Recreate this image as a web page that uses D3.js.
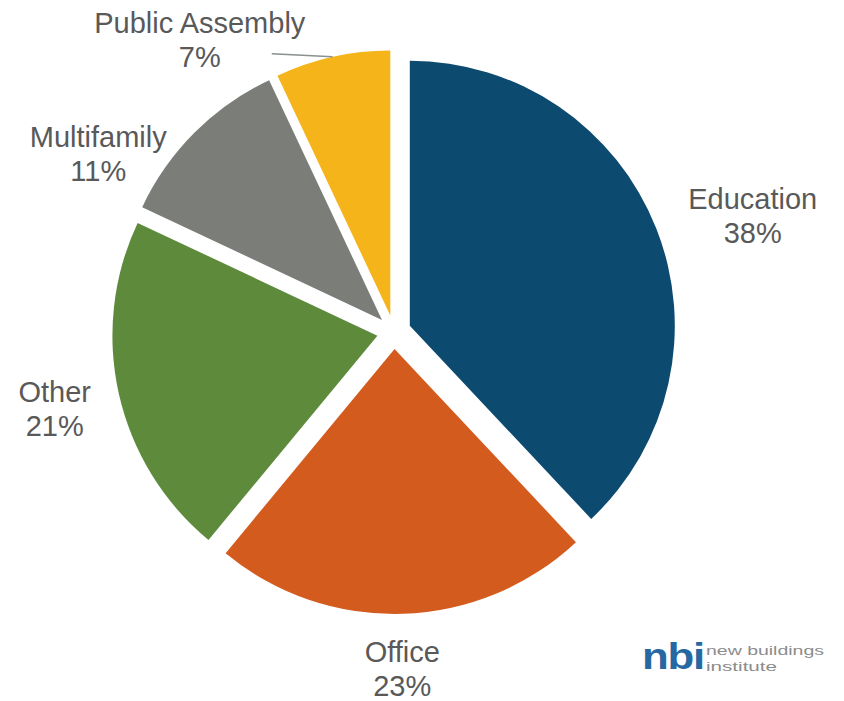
<!DOCTYPE html>
<html>
<head>
<meta charset="utf-8">
<script src="https://cdn.jsdelivr.net/npm/d3@7"></script>
<style>
  html, body { margin: 0; padding: 0; background: #fff; }
  svg { display: block; }
  text { font-family: "Liberation Sans", Arial, sans-serif; }
</style>
</head>
<body>
<svg id="chart" width="844" height="701"></svg>
<script>
// Building types and their shares (%)
const categories = ["Education", "Office", "Other", "Multifamily", "Public Assembly"];
const shares = [38, 23, 21, 11, 7];
const colors = ["#0d4a70", "#d45b1e", "#5e8a3c", "#7b7d79", "#f6b41b"];

// Label placement: angle shift (degrees) and distance from the pie centre
const labelLayout = {
  "Education":       { shift: 3.7,  dist: 377 },
  "Office":          { shift: 0.4,  dist: 337 },
  "Other":           { shift: -0.2, dist: 348 },
  "Multifamily":     { shift: -14,  dist: 345 },
  "Public Assembly": { shift: -21,  dist: 351, leader: [72, 14] }
};

const W = 844, H = 701;
const cx = 394, cy = 332;   // pie centre
const R = 265;               // pie radius
const explode = 17;          // distance each slice is pulled out

const svg = d3.select("#chart");
const data = categories.map((c, i) => ({ name: c, value: shares[i], color: colors[i] }));

const pie = d3.pie().sort(null).value(d => d.value).startAngle(0).endAngle(2 * Math.PI);
const arc = d3.arc().innerRadius(0).outerRadius(R);
const arcs = pie(data);

const g = svg.append("g").attr("transform", `translate(${cx},${cy})`);

const mid = d => (d.startAngle + d.endAngle) / 2;
const polar = (a, r) => [Math.sin(a) * r, -Math.cos(a) * r];

g.selectAll("path.slice")
  .data(arcs)
  .join("path")
  .attr("class", "slice")
  .attr("d", arc)
  .attr("fill", d => d.data.color)
  .attr("transform", d => {
    const [dx, dy] = polar(mid(d), explode);
    return `translate(${dx},${dy})`;
  });

// Category labels with percentages
const fmt = d3.format(".0f");
arcs.forEach(d => {
  const lay = labelLayout[d.data.name];
  const a = mid(d) + lay.shift * Math.PI / 180;
  const [lx, ly] = polar(a, lay.dist);
  const t = g.append("text")
    .attr("text-anchor", "middle")
    .attr("fill", "#595959")
    .style("font-size", "29px");
  t.append("tspan").attr("x", lx).attr("y", ly - 7).text(d.data.name);
  t.append("tspan").attr("x", lx).attr("y", ly + 27).text(fmt(d.data.value) + "%");

  if (lay.leader) {
    const [ex, ey] = polar(mid(d), R);
    const [ox, oy] = polar(mid(d), explode);
    g.append("line")
      .attr("x1", lx + lay.leader[0]).attr("y1", ly + lay.leader[1])
      .attr("x2", ex + ox).attr("y2", ey + oy)
      .attr("stroke", "#8a8f90")
      .attr("stroke-width", 1.5);
  }
});

// Logo
const logo = svg.append("g").attr("transform", "translate(642,669)");
logo.append("text")
  .attr("x", 0).attr("y", 0)
  .attr("fill", "#2668a2")
  .attr("textLength", 62)
  .attr("lengthAdjust", "spacingAndGlyphs")
  .style("font-size", "36px")
  .style("font-weight", "bold")
  .style("letter-spacing", "-1px")
  .text("nbi");
logo.append("text")
  .attr("x", 64).attr("y", -14)
  .attr("fill", "#8c8c8c")
  .attr("textLength", 118)
  .attr("lengthAdjust", "spacingAndGlyphs")
  .style("font-size", "13px")
  .style("font-weight", "300")
  .text("new buildings");
logo.append("text")
  .attr("x", 64).attr("y", 2)
  .attr("fill", "#8c8c8c")
  .attr("textLength", 71)
  .attr("lengthAdjust", "spacingAndGlyphs")
  .style("font-size", "13px")
  .style("font-weight", "300")
  .text("institute");
</script>
</body>
</html>
